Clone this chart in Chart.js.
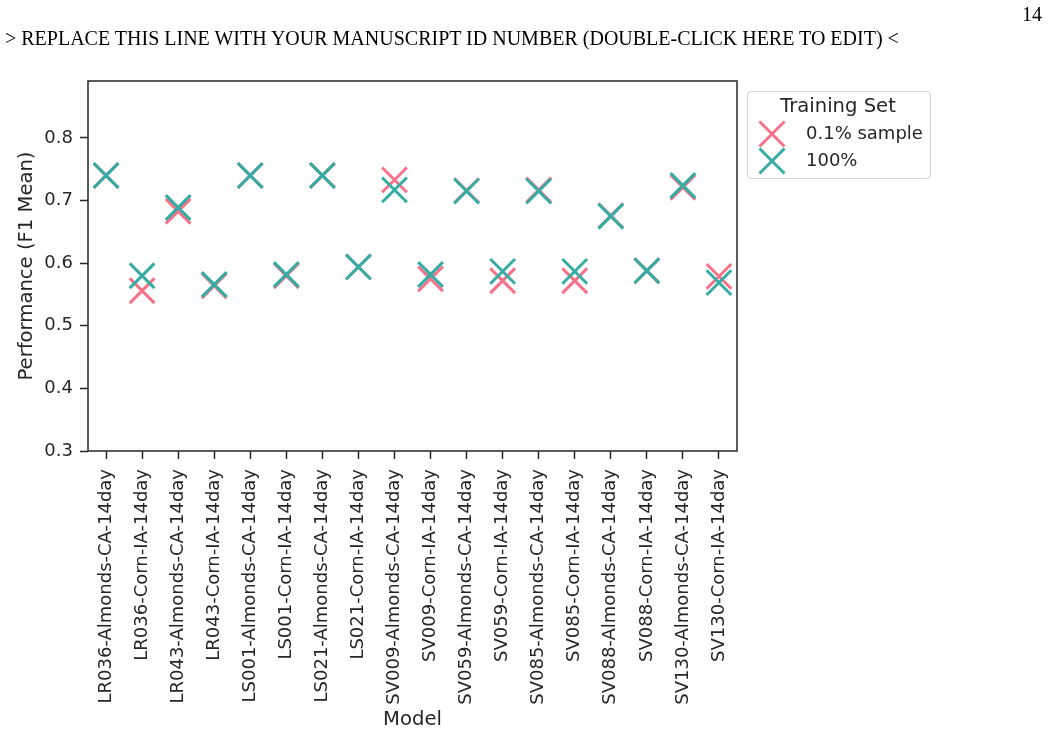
<!DOCTYPE html>
<html>
<head>
<meta charset="utf-8">
<script src="https://cdn.jsdelivr.net/npm/chart.js@4"></script>
<style>
    body { margin: 0; background: #fff; }
    #wrap { position: relative; width: 1049px; height: 736px; }
    #header { position: absolute; left: 5px; top: 27px; font-family: "Liberation Serif", "Times New Roman", serif; font-size: 20px; color: #000; white-space: nowrap; }
    #pageNum { position: absolute; left: 1022px; top: 3px; font-family: "Liberation Serif", "Times New Roman", serif; font-size: 20px; color: #000; }
    canvas { position: absolute; left: 0; top: 0; }
</style>
</head>
<body>
<div id="wrap">
    <canvas id="chart" width="1049" height="736"></canvas>
    <div id="header">&gt; REPLACE THIS LINE WITH YOUR MANUSCRIPT ID NUMBER (DOUBLE-CLICK HERE TO EDIT) &lt;</div>
    <div id="pageNum">14</div>
</div>
<script>
const models = [
    'LR036-Almonds-CA-14day', 'LR036-Corn-IA-14day', 'LR043-Almonds-CA-14day', 'LR043-Corn-IA-14day',
    'LS001-Almonds-CA-14day', 'LS001-Corn-IA-14day', 'LS021-Almonds-CA-14day', 'LS021-Corn-IA-14day',
    'SV009-Almonds-CA-14day', 'SV009-Corn-IA-14day', 'SV059-Almonds-CA-14day', 'SV059-Corn-IA-14day',
    'SV085-Almonds-CA-14day', 'SV085-Corn-IA-14day', 'SV088-Almonds-CA-14day', 'SV088-Corn-IA-14day',
    'SV130-Almonds-CA-14day', 'SV130-Corn-IA-14day'
];
const sample01 = [0.740, 0.556, 0.683, 0.564, 0.740, 0.580, 0.740, 0.594, 0.733, 0.575, 0.716, 0.572, 0.717, 0.572, 0.676, 0.588, 0.721, 0.579];
const full100 = [0.740, 0.580, 0.689, 0.566, 0.740, 0.582, 0.740, 0.594, 0.717, 0.582, 0.715, 0.587, 0.715, 0.587, 0.675, 0.588, 0.724, 0.569];
const yTicks = [0.3, 0.4, 0.5, 0.6, 0.7, 0.8];
const seriesNames = ['0.1% sample', '100%'];
const legendTitle = 'Training Set';

const pink = '#f77189';
const teal = '#36ada4';
const ink = '#262626';
const tickFont = { family: 'DejaVu Sans', size: 18 };
const labelFont = { family: 'DejaVu Sans', size: 19.6 };

// frame around the plot + seaborn-like legend box
const framePlugin = {
    id: 'frame',
    afterDraw(chart) {
        const { ctx, chartArea: a } = chart;
        ctx.save();
        ctx.strokeStyle = ink;
        ctx.lineWidth = 1.5;
        ctx.strokeRect(a.left, a.top, a.right - a.left, a.bottom - a.top);

        const lx = 747.5, ly = 91.5, lw = 183, lh = 87;
        ctx.strokeStyle = '#d6d6d6';
        ctx.lineWidth = 1.2;
        ctx.beginPath();
        ctx.roundRect(lx, ly, lw, lh, 4);
        ctx.stroke();

        ctx.fillStyle = ink;
        ctx.font = '19.6px "DejaVu Sans"';
        ctx.textBaseline = 'middle';
        ctx.textAlign = 'center';
        ctx.fillText(legendTitle, 838, 107);
        ctx.font = '18px "DejaVu Sans"';
        ctx.textAlign = 'left';
        const colors = [pink, teal];
        seriesNames.forEach((name, i) => {
            const y = 134 + i * 27;
            ctx.strokeStyle = colors[i];
            ctx.lineWidth = 3;
            ctx.beginPath();
            ctx.moveTo(772 - 12.5, y - 12.5); ctx.lineTo(772 + 12.5, y + 12.5);
            ctx.moveTo(772 - 12.5, y + 12.5); ctx.lineTo(772 + 12.5, y - 12.5);
            ctx.stroke();
            ctx.fillStyle = ink;
            ctx.fillText(name, 806, y);
        });
        ctx.restore();
    }
};

new Chart(document.getElementById('chart'), {
    type: 'line',
    data: {
        labels: models,
        datasets: [
            {
                label: seriesNames[0],
                data: sample01,
                showLine: false,
                pointStyle: 'crossRot',
                pointRadius: 17.5,
                pointBorderWidth: 3,
                borderColor: pink,
                backgroundColor: pink,
                order: 2,
            },
            {
                label: seriesNames[1],
                data: full100,
                showLine: false,
                pointStyle: 'crossRot',
                pointRadius: 17.5,
                pointBorderWidth: 3,
                borderColor: teal,
                backgroundColor: teal,
                order: 1,
            },
        ],
    },
    options: {
        responsive: false,
        animation: false,
        layout: { padding: { top: 81, right: 312, left: 0, bottom: 0 } },
        plugins: {
            legend: { display: false },
            tooltip: { enabled: false },
        },
        scales: {
            x: {
                offset: true,
                grid: { drawOnChartArea: false, drawTicks: true, tickLength: 8, tickColor: ink, tickWidth: 1.5, offset: false },
                border: { display: false },
                ticks: { color: ink, font: tickFont, minRotation: 90, maxRotation: 90, autoSkip: false, padding: 10 },
                title: { display: true, text: 'Model', color: ink, font: labelFont, padding: { top: 0, bottom: 4 } },
                afterFit: (scale) => { scale.height = 285; },
            },
            y: {
                min: 0.3,
                max: 0.891,
                grid: { drawOnChartArea: false, drawTicks: true, tickLength: 8, tickColor: ink, tickWidth: 1.5 },
                border: { display: false },
                ticks: { color: ink, font: tickFont, padding: 7, callback: (v) => v.toFixed(1) },
                afterBuildTicks: (scale) => { scale.ticks = yTicks.map((v) => ({ value: v })); },
                title: { display: true, text: 'Performance (F1 Mean)', color: ink, font: labelFont, padding: { top: 15, bottom: 0 } },
                afterFit: (scale) => { scale.width = 88; },
            },
        },
    },
    plugins: [framePlugin],
});
</script>
</body>
</html>
